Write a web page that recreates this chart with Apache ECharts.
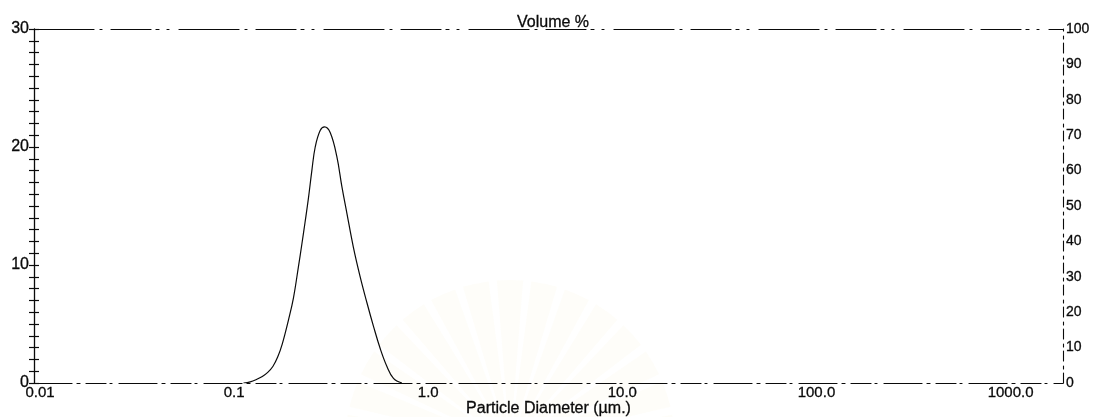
<!DOCTYPE html>
<html>
<head>
<meta charset="utf-8">
<title>Particle Size Distribution</title>
<script src="https://cdn.jsdelivr.net/npm/echarts@6/dist/echarts.min.js"></script>
<style>
  html, body { margin: 0; padding: 0; background: #ffffff; }
  #chart { width: 1095px; height: 417px; }
</style>
</head>
<body>
<div id="chart"></div>
<script>
// Particle diameter (µm) of each measured size class
const diameters = [
  0.120, 0.130, 0.140, 0.150, 0.160, 0.170, 0.180, 0.190, 0.205, 0.217,
  0.230, 0.240, 0.249, 0.259, 0.270, 0.281, 0.298, 0.314, 0.336, 0.363,
  0.386, 0.409, 0.442, 0.479, 0.519, 0.561, 0.608, 0.658, 0.711, 0.786
];
// Volume % in each size class
const volumePct = [
  0.0, 0.1, 0.3, 0.55, 0.9, 1.4, 2.2, 3.3, 5.4, 7.2,
  9.8, 11.8, 13.6, 15.6, 18.0, 20.0, 21.4, 21.7, 21.2, 19.2,
  16.6, 14.4, 11.5, 9.0, 6.8, 4.8, 2.9, 1.4, 0.4, 0.0
];
// Tick labels of the logarithmic diameter axis, from 0.01 upward
const diameterTickLabels = ['0.01', '0.1', '1.0', '10.0', '100.0', '1000.0'];
// Scale limits
const diameterRange = [0.01, 2000];
const volumeRange = [0, 30];
const cumulativeRange = [0, 100];

const INK = '#0a0a0a';
const FONT = '"Liberation Sans", Arial, sans-serif';

const chart = echarts.init(document.getElementById('chart'), null, { renderer: 'canvas' });

const seriesData = diameters.map((d, i) => [d, volumePct[i]]);

// slightly heavier printed lettering
const printText = { textBorderColor: INK, textBorderWidth: 0.3 };

const option = {
  backgroundColor: '#ffffff',
  animation: false,
  textStyle: { fontFamily: FONT, color: INK },
  title: {
    text: 'Volume %',
    left: 512,
    top: 10,
    textStyle: Object.assign({ fontFamily: FONT, fontSize: 16, fontWeight: 'normal', color: INK }, printText)
  },
  graphic: [
    // faint seal printed behind the lower middle of the sheet
    {
      type: 'group',
      silent: true,
      z: -10,
      children: Array.from({ length: 15 }, (_, k) => ({
        type: 'sector',
        shape: {
          cx: 510, cy: 445, r0: 25, r: 165,
          startAngle: Math.PI + k * Math.PI / 15 + 0.025,
          endAngle: Math.PI + (k + 1) * Math.PI / 15 - 0.025
        },
        style: { fill: 'rgba(242, 228, 175, 0.07)' }
      }))
    }
  ],
  grid: { left: 34, right: 32, top: 29, bottom: 34, containLabel: false, outerBoundsMode: 'none' },
  xAxis: [
    {
      type: 'log',
      logBase: 10,
      min: diameterRange[0],
      max: diameterRange[1],
      position: 'bottom',
      name: 'Particle Diameter (µm.)',
      nameLocation: 'middle',
      nameGap: 18,
      nameMoveOverlap: false,
      nameTextStyle: Object.assign({ fontFamily: FONT, fontSize: 16, color: INK }, printText),
      axisLine: { show: true, onZero: false, lineStyle: { color: INK, width: 1.2, type: [38, 5, 3, 6, 20, 4, 2, 7] } },
      axisTick: { show: false },
      splitLine: { show: false },
      minorTick: { show: false },
      axisLabel: Object.assign({
        margin: 2,
        fontFamily: FONT,
        fontSize: 15,
        color: INK,
        showMaxLabel: false,
        padding: [0, 0, 0, 12],
        formatter: (v) => {
          const idx = Math.round(Math.log10(v)) + 2;
          return diameterTickLabels[idx] !== undefined ? diameterTickLabels[idx] : '';
        }
      }, printText)
    },
    {
      type: 'log',
      logBase: 10,
      min: diameterRange[0],
      max: diameterRange[1],
      position: 'top',
      axisLine: { show: true, onZero: false, lineStyle: { color: INK, width: 1.2, type: [60, 6, 2, 9, 40, 5, 3, 8, 2, 10] } },
      axisTick: { show: false },
      axisLabel: { show: false },
      splitLine: { show: false }
    }
  ],
  yAxis: [
    {
      type: 'value',
      position: 'left',
      min: volumeRange[0],
      max: volumeRange[1],
      interval: 1,
      axisLine: { show: true, onZero: false, lineStyle: { color: INK, width: 1.3 } },
      axisTick: { show: true, length: 5, inside: false, lineStyle: { color: INK, width: 1.2 } },
      splitLine: { show: false },
      axisLabel: Object.assign({
        margin: 5,
        fontFamily: FONT,
        fontSize: 16,
        color: INK,
        padding: [0, 0, 8, 0],
        formatter: (v) => (v % 10 === 0 ? String(v) : '')
      }, printText)
    },
    {
      // inner half of the crossing ticks on the left scale
      type: 'value',
      position: 'left',
      offset: 0,
      min: volumeRange[0],
      max: volumeRange[1],
      interval: 1,
      axisLine: { show: false },
      axisTick: { show: true, length: 5, inside: true, lineStyle: { color: INK, width: 1.2 } },
      axisLabel: { show: false },
      splitLine: { show: false }
    },
    {
      type: 'value',
      position: 'right',
      offset: 0,
      min: cumulativeRange[0],
      max: cumulativeRange[1],
      interval: 10,
      axisLine: { show: true, onZero: false, lineStyle: { color: INK, width: 1.1, type: [10, 4, 3, 5] } },
      axisTick: { show: false },
      splitLine: { show: false },
      axisLabel: Object.assign({
        margin: 3,
        fontFamily: FONT,
        fontSize: 14,
        color: INK,
        padding: [0, 0, 8, 0]
      }, printText)
    }
  ],
  series: [
    {
      type: 'line',
      xAxisIndex: 0,
      yAxisIndex: 0,
      data: seriesData,
      smooth: 0.4,
      symbol: 'none',
      lineStyle: { color: INK, width: 1.2 },
      z: 5
    }
  ]
};

chart.setOption(option);
</script>
</body>
</html>
